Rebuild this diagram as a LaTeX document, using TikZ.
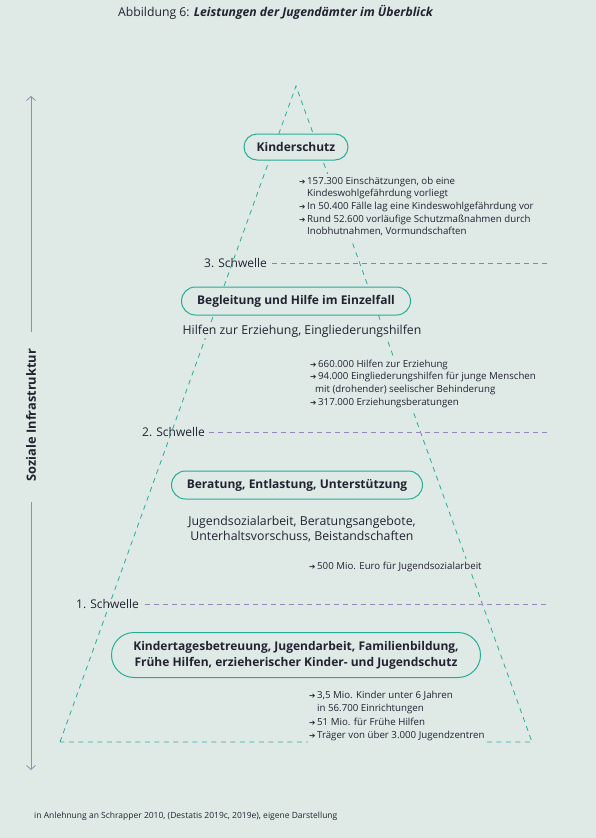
\documentclass[tikz,border=0pt]{standalone}
\usepackage{fontspec}
\setmainfont{Open Sans}
\newfontfamily\symfont{DejaVu Sans}
\usepackage{xcolor}
\usetikzlibrary{arrows.meta,positioning,shapes.misc}
\definecolor{bgcol}{RGB}{223,234,231}
\definecolor{tealcol}{RGB}{40,172,152}
\definecolor{lilac}{RGB}{150,136,186}
\definecolor{greyline}{RGB}{128,138,154}
\definecolor{ink}{RGB}{34,34,48}
\newcommand\pfeil{{\symfont\fontsize{7.6}{7}\selectfont ➔}}
\begin{document}
\begin{tikzpicture}[
x=1pt,
y=-1pt,
every node/.style={text=ink},
level/.style={rounded rectangle,draw=tealcol,line width=1pt,fill=bgcol,align=center,inner sep=2pt,font=\fontsize{12}{16}\bfseries},
plain/.style={align=center,fill=bgcol,inner sep=1pt,font=\fontsize{12.3}{15.5}\selectfont},
facts/.style={anchor=north west,fill=bgcol,inner sep=1pt,font=\fontsize{9.7}{12.7}\selectfont},
sw/.style={anchor=west,inner sep=1pt,font=\fontsize{12}{13}\selectfont},
pyr/.style={draw=tealcol,line width=0.8pt,dash pattern=on 5pt off 4.5pt},
swline/.style={draw=lilac,line width=0.8pt,dash pattern=on 5pt off 4pt},
axis/.style={draw=lilac,line width=0.8pt,-{Straight Barb[length=4pt,width=9pt]}}
]
\useasboundingbox (0,0) rectangle (596,838);
\fill[bgcol] (0,0) rectangle (596,838);

% Titel
\node[anchor=west,inner sep=0pt,font=\fontsize{12.2}{14}\selectfont] (title) at (118,12)
  {Abbildung 6: \textbf{\itshape Leistungen der Jugendämter im Überblick}};

% Pyramide
\coordinate (apex) at (296,86);
\coordinate (bl) at (60,742);
\coordinate (br) at (532,742);
\draw[pyr] (bl) -- (apex) -- (br) -- (bl);

% Achse
\node[rotate=90,inner sep=0pt,font=\fontsize{12.8}{14}\bfseries] (axlabel) at (31,415) {Soziale Infrastruktur};
\coordinate (axtop) at (31,96);
\coordinate (axbot) at (31,770);
\draw[axis] (axlabel.east) ++(0,-17) -- (axtop);
\draw[axis] (axlabel.west) ++(0,21) -- (axbot);

% Schwellen
\node[sw] (sw3) at (203,263) {3. Schwelle};
\node[sw] (sw2) at (141,432) {2. Schwelle};
\node[sw] (sw1) at (75,604) {1. Schwelle};
\coordinate (sw3end) at (548,263);
\coordinate (sw2end) at (548,432);
\coordinate (sw1end) at (548,604);
\draw[swline,draw=greyline] (sw3.east) ++(4,0) -- (sw3end);
\draw[swline] (sw2.east) ++(3,0) -- (sw2end);
\draw[swline] (sw1.east) ++(5,0) -- (sw1end);

% Stufen
\node[level,minimum width=108pt,minimum height=26pt] (schutz) at (296,147) {Kinderschutz};
\node[facts] (schutzfacts) at (298,174) {\begin{tabular}{@{}l@{\,}l@{}}
\pfeil & 157.300 Einschätzungen, ob eine\\
 & Kindeswohlgefährdung vorliegt\\
\pfeil & In 50.400 Fälle lag eine Kindeswohlgefährdung vor\\
\pfeil & Rund 52.600 vorläufige Schutzmaßnahmen durch\\
 & Inobhutnahmen, Vormundschaften
\end{tabular}};

\node[level,minimum width=233pt,minimum height=28pt] (einzel) at (296,301) {Begleitung und Hilfe im Einzelfall};
\node[plain] (einzeltxt) at (302,331) {Hilfen zur Erziehung, Eingliederungshilfen};
\node[facts] (einzelfacts) at (309,357) {\begin{tabular}{@{}l@{\,}l@{}}
\pfeil & 660.000 Hilfen zur Erziehung\\
\pfeil & 94.000 Eingliederungshilfen für junge Menschen\\
\multicolumn{2}{@{}l@{}}{\hspace{5pt}mit (drohender) seelischer Behinderung}\\
\pfeil & 317.000 Erziehungsberatungen
\end{tabular}};

\node[level,minimum width=255pt,minimum height=28pt] (beratung) at (297,485) {Beratung, Entlastung, Unterstützung};
\node[plain] (beratungtxt) at (302,529) {Jugendsozialarbeit, Beratungsangebote,\\Unterhaltsvorschuss, Beistandschaften};
\node[facts] (beratungfacts) at (308,559) {\begin{tabular}{@{}l@{\,}l@{}}
\pfeil & 500 Mio. Euro für Jugendsozialarbeit
\end{tabular}};

\node[level,minimum width=373pt,minimum height=45pt,font=\fontsize{12}{16}\bfseries] (kita) at (296,655)
  {Kindertagesbetreuung, Jugendarbeit, Familienbildung,\\Frühe Hilfen, erzieherischer Kinder- und Jugendschutz};
\node[facts,font=\fontsize{9.7}{13.4}\selectfont] (kitafacts) at (308,688) {\begin{tabular}{@{}l@{\,}l@{}}
\pfeil & 3,5 Mio. Kinder unter 6 Jahren\\
 & in 56.700 Einrichtungen\\
\pfeil & 51 Mio. für Frühe Hilfen\\
\pfeil & Träger von über 3.000 Jugendzentren
\end{tabular}};

% Quelle
\node[anchor=west,inner sep=0pt,font=\fontsize{8.5}{10}\selectfont] (quelle) at (34,816)
  {in Anlehnung an Schrapper 2010, (Destatis 2019c, 2019e), eigene Darstellung};
\end{tikzpicture}
\end{document}
